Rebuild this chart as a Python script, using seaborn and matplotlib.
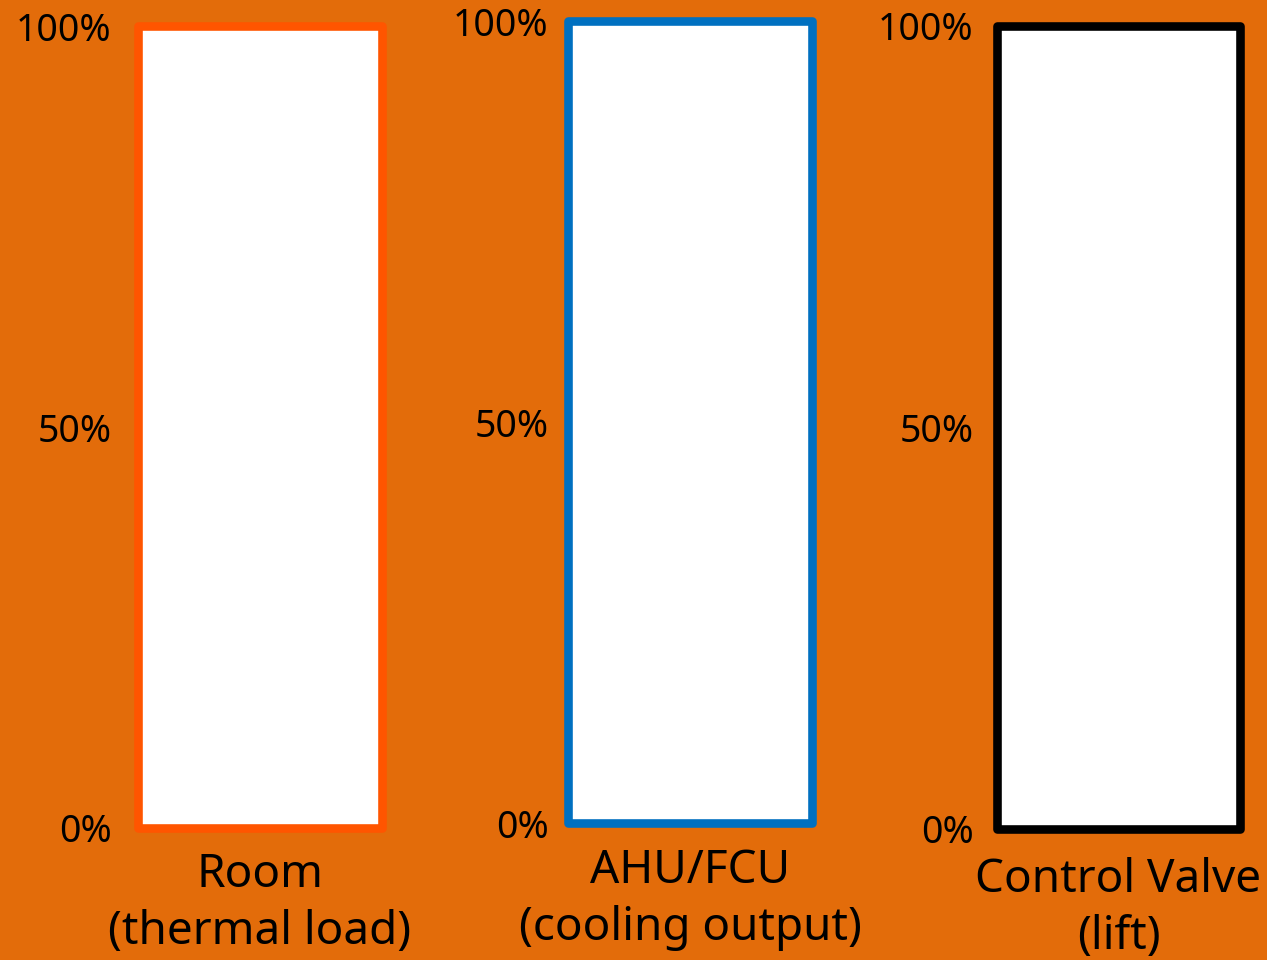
import matplotlib
matplotlib.use("Agg")
import matplotlib.pyplot as plt
import seaborn as sns
import pandas as pd

# Gauge data: one column per component, filled to its current level (%)
components = ["Room\n(thermal load)", "AHU/FCU\n(cooling output)", "Control Valve\n(lift)"]
levels = [100, 100, 100]
edge_colors = ["#FF5500", "#0070C0", "#000000"]
y_ticks = [0, 50, 100]
y_tick_labels = ["0%", "50%", "100%"]

BG = "#E36C0A"

sns.set_theme(style="white")
plt.rcParams["font.family"] = ["Noto Sans", "DejaVu Sans"]

df = pd.DataFrame({"component": components, "level": levels})

fig = plt.figure(figsize=(12.67, 9.6), dpi=100, facecolor=BG)

# Axes rectangles (figure fraction) for the three gauges
rects = [
    [0.1089, 0.1375, 0.1926, 0.8354],
    [0.4483, 0.1427, 0.1926, 0.8354],
    [0.7869, 0.1365, 0.1918, 0.8365],
]
tick_pads = [19, 14, 17]
label_pads = [17, 18, 20]

for i, rect in enumerate(rects):
    ax = fig.add_axes(rect)
    ax.set_facecolor(BG)
    sns.barplot(data=df.iloc[[i]], x="component", y="level", ax=ax,
                color="white", width=1.0, linewidth=6.2,
                edgecolor=edge_colors[i])
    for p in ax.patches:
        p.set_clip_on(False)
        p.set_joinstyle("round")
    ax.set_xlim(-0.5, 0.5)
    ax.set_ylim(0, 100)
    ax.set_yticks(y_ticks)
    ax.set_yticklabels(y_tick_labels, fontsize=27)
    ax.tick_params(axis="y", length=0, pad=tick_pads[i], colors="black")
    ax.tick_params(axis="x", length=0, pad=label_pads[i], colors="black")
    for lbl in ax.get_xticklabels():
        lbl.set_fontsize(33)
        lbl.set_linespacing(1.32)
    ax.set_xlabel("")
    ax.set_ylabel("")
    for s in ax.spines.values():
        s.set_visible(False)
    ax.grid(False)

fig.savefig("out.png", dpi=100, facecolor=BG)
